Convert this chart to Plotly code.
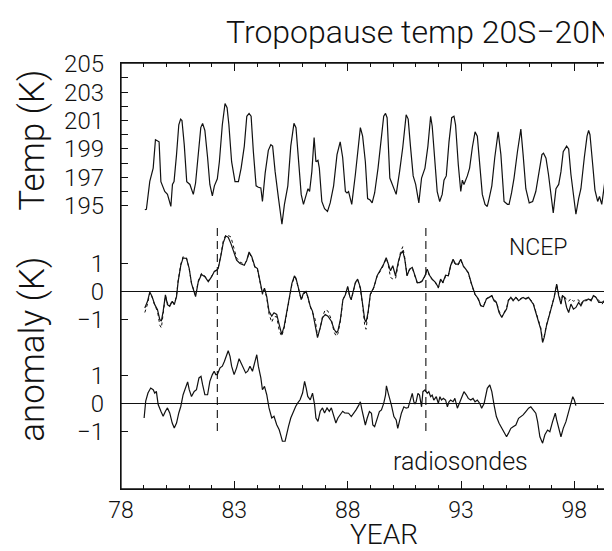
import plotly.graph_objects as go

# ---------------- data ----------------
temp_years = [79.05, 79.12, 79.27, 79.42, 79.52, 79.6, 79.68, 79.76, 79.86, 79.93, 80.05, 80.15, 80.2, 80.27, 80.34,
              80.45, 80.55, 80.63, 80.69, 80.79, 80.9, 81.04, 81.19, 81.29, 81.4, 81.52, 81.6, 81.7, 81.82, 81.92,
              82.03, 82.12, 82.25, 82.34, 82.47, 82.59, 82.68, 82.76, 82.88, 83.03, 83.18, 83.3, 83.44, 83.55, 83.65,
              83.74, 83.84, 83.96, 84.06, 84.17, 84.24, 84.36, 84.5, 84.61, 84.69, 84.8, 84.95, 85.1, 85.21, 85.36,
              85.49, 85.63, 85.72, 85.83, 85.95, 86.05, 86.16, 86.25, 86.32, 86.42, 86.52, 86.6, 86.69, 86.75, 86.86,
              86.98, 87.11, 87.23, 87.38, 87.53, 87.67, 87.78, 87.9, 87.97, 88.04, 88.18, 88.34, 88.46, 88.56, 88.66,
              88.78, 88.88, 88.99, 89.08, 89.19, 89.34, 89.47, 89.59, 89.67, 89.74, 89.86, 90.01, 90.14, 90.29, 90.43,
              90.58, 90.67, 90.77, 90.89, 91.0, 91.14, 91.26, 91.41, 91.54, 91.66, 91.73, 91.85, 91.95, 92.06, 92.17,
              92.25, 92.35, 92.47, 92.59, 92.69, 92.76, 92.88, 92.99, 93.06, 93.13, 93.28, 93.38, 93.5, 93.62, 93.72,
              93.82, 93.94, 94.06, 94.16, 94.24, 94.36, 94.49, 94.64, 94.76, 94.9, 95.05, 95.12, 95.23, 95.34, 95.49,
              95.64, 95.74, 95.86, 96.01, 96.16, 96.3, 96.42, 96.57, 96.64, 96.75, 96.86, 96.97, 97.07, 97.19, 97.31,
              97.41, 97.51, 97.66, 97.75, 97.85, 97.96, 98.07, 98.19, 98.29, 98.44, 98.56, 98.63, 98.69, 98.81, 98.91,
              99.03, 99.11, 99.21, 99.33, 99.43, 99.55]
temp_values = [194.72, 194.75, 196.71, 197.65, 199.65, 199.55, 199.5, 196.7, 196.2, 196.0, 195.8, 195.3, 194.95, 196.5, 196.7,
               198.6, 200.7, 201.1, 201.0, 199.3, 196.7, 196.5, 195.8, 196.6, 198.4, 200.5, 200.8, 200.3, 198.4, 196.5,
               195.7, 196.4, 196.9, 198.1, 200.7, 202.2, 201.9, 200.7, 198.1, 196.7, 196.7, 197.65, 199.2, 201.3, 201.5,
               201.3, 198.8, 196.4, 196.3, 196.25, 195.3, 197.3, 198.9, 199.3, 199.2, 197.4, 195.5, 193.7, 195.1, 196.4,
               199.2, 200.8, 200.5, 198.1, 195.8, 195.1, 195.8, 196.2, 196.0, 197.4, 199.8, 198.1, 198.2, 197.65, 195.3,
               194.8, 194.6, 195.2, 196.4, 198.6, 199.5, 198.4, 196.0, 195.9, 196.0, 195.1, 197.2, 199.1, 200.5, 199.9,
               198.1, 195.5, 195.4, 195.2, 195.9, 197.65, 199.5, 201.3, 201.5, 201.2, 196.95, 196.4, 195.8, 197.4, 199.1,
               201.4, 201.1, 199.2, 197.1, 196.5, 195.2, 196.95, 197.65, 199.2, 201.3, 200.6, 197.65, 196.0, 195.3, 195.8,
               196.8, 197.1, 199.5, 201.2, 201.3, 200.7, 197.9, 196.0, 196.8, 196.5, 197.1, 197.65, 199.1, 200.2, 199.9,
               198.1, 195.8, 195.1, 194.95, 195.5, 196.4, 198.4, 200.2, 198.6, 195.3, 195.1, 195.1, 195.9, 196.95, 198.8,
               200.4, 198.6, 196.2, 195.2, 195.3, 196.0, 197.2, 198.6, 198.7, 198.35, 197.2, 195.8, 194.5, 196.2, 196.5,
               197.4, 198.8, 199.2, 199.0, 197.2, 195.9, 194.4, 195.5, 196.2, 198.4, 199.9, 200.3, 200.0, 197.9, 196.1,
               195.3, 195.65, 195.1, 196.5, 198.8, 200.7]

ncep_years = [79.05, 79.17, 79.27, 79.37, 79.49, 79.61, 79.71, 79.78, 79.86, 79.96, 80.05, 80.15, 80.26, 80.35, 80.45,
              80.52, 80.64, 80.74, 80.89, 81.01, 81.11, 81.29, 81.41, 81.55, 81.7, 81.85, 82.0, 82.11, 82.22, 82.29,
              82.41, 82.51, 82.62, 82.73, 82.85, 83.0, 83.1, 83.25, 83.44, 83.55, 83.65, 83.77, 83.91, 84.02, 84.14,
              84.24, 84.33, 84.43, 84.53, 84.65, 84.75, 84.87, 84.98, 85.09, 85.2, 85.32, 85.42, 85.54, 85.65, 85.72,
              85.83, 85.95, 86.05, 86.16, 86.24, 86.35, 86.45, 86.57, 86.67, 86.79, 86.89, 87.01, 87.13, 87.28, 87.4,
              87.5, 87.57, 87.68, 87.79, 87.9, 88.0, 88.1, 88.16, 88.34, 88.44, 88.56, 88.66, 88.75, 88.81, 88.9,
              89.0, 89.15, 89.3, 89.44, 89.59, 89.7, 89.78, 89.89, 89.99, 90.11, 90.23, 90.33, 90.43, 90.52, 90.62,
              90.73, 90.85, 90.96, 91.07, 91.17, 91.29, 91.41, 91.51, 91.61, 91.73, 91.88, 92.0, 92.1, 92.2, 92.32,
              92.44, 92.54, 92.65, 92.76, 92.88, 92.99, 93.1, 93.21, 93.32, 93.47, 93.62, 93.77, 93.87, 93.99, 94.12,
              94.24, 94.36, 94.46, 94.56, 94.68, 94.8, 94.9, 95.01, 95.09, 95.2, 95.3, 95.42, 95.54, 95.64, 95.74,
              95.86, 95.98, 96.08, 96.19, 96.3, 96.42, 96.52, 96.6, 96.67, 96.77, 96.89, 96.99, 97.11, 97.22, 97.31,
              97.41, 97.48, 97.56, 97.66, 97.75, 97.85, 97.96, 98.07, 98.19, 98.29, 98.4, 98.52, 98.63, 98.74, 98.84,
              98.96, 99.08, 99.22, 99.33, 99.4, 99.52, 99.58]
ncep_solid = [-0.59, -0.35, -0.02, -0.18, -0.47, -0.65, -1.0, -1.06, -0.71, -0.12, -0.47, -0.53, -0.35, -0.47, -0.18,
              0.35, 0.94, 1.2, 1.18, 0.82, 0.29, -0.18, 0.35, 0.61, 0.53, 0.35, 0.53, 0.71, 0.76, 0.82,
              1.29, 1.74, 1.98, 1.94, 1.71, 1.35, 1.12, 1.0, 0.94, 1.12, 1.41, 1.24, 0.88, 0.82, 0.29,
              -0.06, 0.12, -0.18, -0.71, -0.88, -0.76, -0.82, -1.18, -1.53, -1.24, -0.65, -0.18, 0.29, 0.56, 0.47,
              0.12, -0.29, -0.06, 0.0, -0.18, -0.53, -0.71, -1.18, -1.65, -1.29, -0.94, -0.82, -0.88, -1.06, -1.35,
              -1.47, -1.41, -1.0, -0.29, -0.12, 0.18, -0.2, -0.27, 0.32, 0.44, 0.14, -0.45, -0.99, -1.1, -0.75,
              -0.1, 0.14, 0.56, 0.74, 0.98, 1.21, 1.04, 0.74, 0.92, 0.56, 1.04, 1.33, 1.45, 1.15, 0.56,
              0.8, 0.86, 0.62, 0.32, 0.32, 0.38, 0.56, 0.8, 0.58, 0.44, 0.32, 0.14, 0.44, 0.32, 0.58,
              0.56, 0.92, 1.15, 0.98, 0.98, 1.15, 0.92, 0.8, 0.68, 0.26, -0.1, -0.27, -0.51, -0.54, -0.27,
              -0.21, -0.15, -0.33, -0.39, -0.75, -0.93, -0.77, -0.63, -0.33, -0.21, -0.33, -0.21, -0.33, -0.27, -0.21,
              -0.27, -0.21, -0.33, -0.45, -0.75, -1.05, -1.35, -1.82, -1.64, -1.23, -0.87, -0.63, -0.21, 0.26, -0.15,
              -0.45, -0.15, -0.21, -0.57, -0.75, -0.45, -0.63, -0.57, -0.39, -0.51, -0.33, -0.33, -0.27, -0.33, -0.15,
              -0.21, -0.39, -0.39, -0.33, 0.2, 0.8, 0.86]
ncep_dashed = [-0.75, -0.45, -0.05, -0.2, -0.5, -0.7, -1.2, -1.3, -0.8, -0.15, -0.42, -0.5, -0.33, -0.45, -0.15,
               0.38, 0.98, 1.25, 1.2, 0.8, 0.3, -0.15, 0.38, 0.65, 0.55, 0.38, 0.55, 0.72, 0.78, 0.85,
               1.32, 1.8, 2.02, 2.0, 1.95, 1.5, 1.2, 1.05, 0.98, 1.1, 1.38, 1.2, 0.85, 0.8, 0.25,
               -0.1, 0.08, -0.22, -0.8, -1.1, -0.9, -0.9, -1.4, -1.6, -1.3, -0.7, -0.2, 0.25, 0.52, 0.45,
               0.1, -0.3, -0.1, -0.02, -0.2, -0.55, -0.75, -1.0, -1.6, -1.3, -0.9, -0.65, -0.7, -1.0, -1.45,
               -1.6, -1.5, -1.05, -0.3, -0.1, 0.15, -0.22, -0.3, 0.3, 0.42, 0.1, -0.5, -1.2, -1.35, -0.8,
               -0.12, 0.12, 0.55, 0.72, 0.95, 1.18, 1.0, 0.5, 0.45, 0.45, 1.05, 1.4, 1.6, 1.2, 0.58,
               0.78, 0.84, 0.6, 0.3, 0.3, 0.36, 0.55, 0.78, 0.56, 0.42, 0.3, 0.12, 0.42, 0.3, 0.55,
               0.55, 0.9, 1.12, 0.95, 0.95, 1.12, 0.9, 0.78, 0.66, 0.24, -0.12, -0.3, -0.5, -0.52, -0.25,
               -0.2, -0.14, -0.3, -0.36, -0.7, -0.9, -0.75, -0.6, -0.3, -0.2, -0.3, -0.2, -0.3, -0.25, -0.2,
               -0.25, -0.2, -0.3, -0.42, -0.72, -1.0, -1.3, -1.75, -1.6, -1.2, -0.85, -0.6, -0.2, 0.24, -0.12,
               -0.42, -0.12, -0.18, -0.3, -0.35, -0.25, -0.35, -0.3, -0.3, -0.45, -0.3, -0.3, -0.25, -0.3, -0.15,
               -0.2, -0.3, -0.45, -0.35, 0.18, 0.78, 0.85]

sonde_years = [79.02, 79.09, 79.19, 79.31, 79.42, 79.49, 79.56, 79.64, 79.76, 79.86, 79.96, 80.05, 80.15, 80.26, 80.35,
               80.45, 80.55, 80.64, 80.74, 80.85, 80.94, 81.01, 81.11, 81.23, 81.33, 81.44, 81.53, 81.6, 81.7, 81.82,
               81.92, 82.03, 82.11, 82.18, 82.25, 82.37, 82.47, 82.56, 82.63, 82.73, 82.81, 82.88, 82.99, 83.1, 83.21,
               83.3, 83.4, 83.5, 83.59, 83.69, 83.8, 83.91, 83.99, 84.06, 84.17, 84.24, 84.33, 84.43, 84.53, 84.65,
               84.75, 84.87, 84.98, 85.06, 85.12, 85.24, 85.32, 85.39, 85.49, 85.61, 85.71, 85.8, 85.9, 86.01, 86.1,
               86.17, 86.24, 86.35, 86.45, 86.54, 86.6, 86.69, 86.79, 86.89, 86.98, 87.09, 87.19, 87.28, 87.38, 87.48,
               87.57, 87.68, 87.78, 87.87, 87.97, 88.04, 88.16, 88.27, 88.37, 88.49, 88.56, 88.63, 88.71, 88.78, 88.86,
               88.96, 89.05, 89.11, 89.19, 89.3, 89.4, 89.49, 89.59, 89.67, 89.71, 89.79, 89.86, 89.93, 90.04, 90.14,
               90.21, 90.3, 90.37, 90.48, 90.58, 90.67, 90.77, 90.85, 90.92, 90.97, 91.02, 91.1, 91.17, 91.26, 91.32,
               91.41, 91.51, 91.58, 91.66, 91.73, 91.8, 91.91, 92.0, 92.07, 92.14, 92.22, 92.32, 92.4, 92.47, 92.54,
               92.65, 92.73, 92.84, 92.94, 93.03, 93.13, 93.24, 93.32, 93.43, 93.53, 93.62, 93.72, 93.83, 93.91, 94.02,
               94.09, 94.16, 94.27, 94.36, 94.46, 94.56, 94.68, 94.8, 94.9, 95.01, 95.09, 95.2, 95.3, 95.42, 95.54,
               95.64, 95.74, 95.86, 95.98, 96.08, 96.19, 96.3, 96.38, 96.48, 96.6, 96.7, 96.82, 96.92, 97.04, 97.16,
               97.22, 97.31, 97.41, 97.51, 97.63, 97.75, 97.85, 97.93, 98.0, 98.07]
sonde_values = [-0.5, 0.1, 0.39, 0.57, 0.51, 0.39, 0.45, -0.02, -0.26, -0.44, -0.26, -0.14, -0.32, -0.68, -0.86,
                -0.68, -0.32, -0.08, 0.33, 0.63, 0.79, 0.51, 0.27, 0.45, 0.51, 0.93, 0.99, 0.69, 0.33, 0.33,
                0.81, 1.05, 1.17, 1.05, 1.05, 1.29, 1.35, 1.52, 1.7, 1.9, 1.7, 1.35, 1.05, 1.29, 1.62,
                1.46, 1.23, 1.11, 1.17, 1.35, 1.17, 1.58, 1.76, 1.35, 0.93, 0.51, 0.63, 0.33, -0.14, -0.5,
                -0.44, -0.74, -0.92, -1.15, -1.33, -1.33, -1.1, -0.8, -0.5, -0.26, -0.08, 0.04, 0.15, 0.39, 0.81,
                0.57, 0.27, 0.15, 0.39, -0.02, -0.5, -0.62, -0.26, -0.14, -0.32, -0.14, -0.26, -0.14, -0.44, -0.68,
                -0.5, -0.38, -0.26, -0.32, -0.32, -0.33, -0.45, -0.33, -0.21, -0.04, 0.08, -0.21, -0.51, -0.75, -0.51,
                -0.27, -0.33, -0.75, -0.81, -0.51, -0.27, -0.21, 0.02, 0.32, 0.65, 0.38, 0.2, -0.04, -0.45, -0.57,
                -0.87, -0.57, -0.33, -0.1, -0.15, -0.13, 0.2, 0.38, 0.08, 0.0, 0.08, 0.38, 0.32, -0.1, 0.44,
                0.5, 0.38, 0.44, 0.26, 0.32, 0.14, 0.26, 0.02, 0.26, 0.14, 0.2, 0.14, -0.1, 0.08, 0.14,
                0.08, 0.2, -0.15, 0.08, 0.26, 0.44, 0.32, 0.2, 0.14, 0.2, 0.08, 0.14, 0.02, -0.15, 0.02,
                0.32, 0.56, 0.68, 0.44, -0.04, -0.45, -0.69, -0.87, -1.05, -1.17, -1.05, -0.87, -0.81, -0.75, -0.51,
                -0.45, -0.39, -0.27, -0.15, -0.1, -0.21, -0.33, -0.63, -1.17, -1.4, -1.1, -0.93, -0.99, -0.63, -0.33,
                -0.57, -0.87, -1.17, -0.87, -0.63, -0.27, 0.08, 0.26, 0.14, -0.06]

event_years = [82.25, 91.45]          # El Chichon, Pinatubo
year_ticks = [78, 83, 88, 93, 98]
temp_ticks = [195, 197, 199, 201, 203, 205]
temp_minor = [196, 198, 200, 202, 204]
anom_ticks = [-1, 0, 1]

# ---------------- figure ----------------
FONT = "Roboto"
BLK = "#111111"
line_style = dict(color=BLK, width=1.2)

fig = go.Figure()
fig.add_trace(go.Scatter(x=temp_years, y=temp_values, mode="lines", line=line_style,
                         xaxis="x2", yaxis="y", showlegend=False, hoverinfo="skip"))
fig.add_trace(go.Scatter(x=ncep_years, y=ncep_dashed, mode="lines",
                         line=dict(color=BLK, width=1.0, dash="3px,3px"),
                         xaxis="x", yaxis="y2", showlegend=False, hoverinfo="skip"))
fig.add_trace(go.Scatter(x=ncep_years, y=ncep_solid, mode="lines", line=line_style,
                         xaxis="x", yaxis="y2", showlegend=False, hoverinfo="skip"))
fig.add_trace(go.Scatter(x=sonde_years, y=sonde_values, mode="lines", line=line_style,
                         xaxis="x", yaxis="y3", showlegend=False, hoverinfo="skip"))

xr = [78, 99.75]
tickfont = dict(family=FONT, size=24, color=BLK)
common_x = dict(range=xr, showgrid=False, zeroline=False, showline=True, linecolor=BLK, linewidth=1.3,
                ticks="inside", ticklen=8, tickwidth=1, tickcolor=BLK,
                tickmode="array", tickvals=year_ticks,
                minor=dict(dtick=1, tick0=78, ticks="inside", ticklen=4, tickwidth=1, tickcolor=BLK))
common_y = dict(showgrid=False, showline=True, linecolor=BLK, linewidth=1.3, mirror="ticks",
                ticks="inside", ticklen=7, tickwidth=1, tickcolor=BLK, tickfont=tickfont,
                ticklabelstandoff=11)

fig.update_layout(
    width=612, height=551,
    margin=dict(l=113, r=6, t=55, b=70),
    paper_bgcolor="white", plot_bgcolor="white",
    font=dict(family=FONT, color=BLK, weight=300),
    xaxis=dict(**common_x, anchor="y3", side="bottom", tickfont=dict(family=FONT, size=23, color=BLK),
               ticklabelstandoff=0, domain=[0, 1]),
    xaxis2=dict(**common_x, anchor="y", side="top", showticklabels=False, matches="x", domain=[0, 1]),
    yaxis=dict(**common_y, domain=[0.6009, 1.0], range=[193.08, 205.05], anchor="x2",
               tickmode="array", tickvals=temp_ticks, zeroline=False,
               minor=dict(tickmode="array", tickvals=temp_minor, ticks="inside", ticklen=7,
                          tickwidth=1, tickcolor=BLK)),
    yaxis2=dict(**common_y, domain=[0.331, 0.6009], range=[-2.018, 2.089], anchor="x",
                tickmode="array", tickvals=anom_ticks,
                zeroline=True, zerolinecolor=BLK, zerolinewidth=1.3),
    yaxis3=dict(**common_y, domain=[0.0, 0.331], range=[-3.036, 2.0], anchor="x",
                tickmode="array", tickvals=anom_ticks,
                zeroline=True, zerolinecolor=BLK, zerolinewidth=1.3),
)

for ev in event_years:
    fig.add_shape(type="line", xref="x", yref="paper", x0=ev, x1=ev, y0=0.1362, y1=0.6127,
                  line=dict(color=BLK, width=1.1, dash="8px,5px"))

fig.add_shape(type="rect", xref="paper", yref="paper", x0=0, x1=1, y0=0, y1=1,
              line=dict(color=BLK, width=1.3), fillcolor="rgba(0,0,0,0)")

ann_font = lambda s: dict(family=FONT, size=s, color=BLK, weight=300)
fig.add_annotation(text="Tropopause temp 20S\u221220N", xref="paper", yref="paper", x=1.002, y=1.073,
                   xanchor="right", yanchor="middle", showarrow=False, font=ann_font(32))
fig.add_annotation(text="Temp (K)", xref="paper", yref="paper", x=-0.1785, y=0.820, textangle=-90,
                   xanchor="center", yanchor="middle", showarrow=False, font=ann_font(35))
fig.add_annotation(text="anomaly (K)", xref="paper", yref="paper", x=-0.1785, y=0.329, textangle=-90,
                   xanchor="center", yanchor="middle", showarrow=False, font=ann_font(35))
fig.add_annotation(text="YEAR", xref="paper", yref="paper", x=0.533, y=-0.106,
                   xanchor="center", yanchor="middle", showarrow=False, font=ann_font(28))
fig.add_annotation(text="NCEP", xref="paper", yref="paper", x=0.846, y=0.566,
                   xanchor="center", yanchor="middle", showarrow=False, font=ann_font(23))
fig.add_annotation(text="radiosondes", xref="paper", yref="paper", x=0.688, y=0.0657,
                   xanchor="center", yanchor="middle", showarrow=False, font=ann_font(25))

fig.write_html("out.html")
